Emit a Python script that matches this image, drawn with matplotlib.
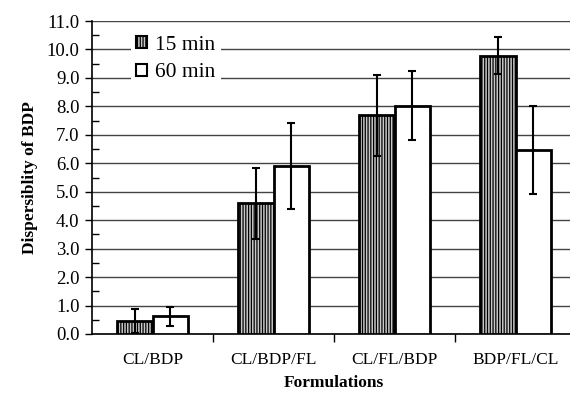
import numpy as np
import matplotlib.pyplot as plt
from matplotlib.patches import Patch

plt.rcParams['font.family'] = ['Liberation Serif', 'DejaVu Serif']
plt.rcParams['hatch.linewidth'] = 0.9

formulations = ["CL/BDP", "CL/BDP/FL", "CL/FL/BDP", "BDP/FL/CL"]
disp_15 = [0.45, 4.6, 7.68, 9.78]
err_15 = [0.43, 1.25, 1.42, 0.66]
disp_60 = [0.62, 5.9, 8.03, 6.47]
err_60 = [0.34, 1.5, 1.2, 1.55]


def show_data():
    fig = plt.figure(figsize=(5.7, 3.93), dpi=100)
    ax = fig.add_axes([92 / 570, 59 / 393, 484 / 570, 313 / 393])

    x = np.arange(len(formulations))
    w = 0.293
    ax.bar(x - w / 2, disp_15, w, facecolor="#c8c8c8", edgecolor="black",
           hatch="||||||", linewidth=2, zorder=3)
    ax.bar(x + w / 2, disp_60, w, facecolor="white", edgecolor="black",
           linewidth=2, zorder=3)
    ax.errorbar(x - w / 2, disp_15, yerr=err_15, fmt="none", ecolor="black",
                elinewidth=1.5, capsize=3.2, capthick=1.5, zorder=4)
    ax.errorbar(x + w / 2, disp_60, yerr=err_60, fmt="none", ecolor="black",
                elinewidth=1.5, capsize=3.2, capthick=1.5, zorder=4)

    ax.set_xlim(-0.5, 3.5)
    ax.set_ylim(0, 11)
    ax.set_yticks(np.arange(0, 11.5, 1.0))
    ax.set_yticklabels(["%.1f" % v for v in np.arange(0, 11.5, 1.0)], fontsize=13.5)
    ax.set_yticks(np.arange(0.5, 11, 1.0), minor=True)
    ax.tick_params(axis="y", which="major", direction="out", length=5, width=1, pad=4)
    ax.tick_params(axis="y", which="minor", direction="in", length=5, width=1)

    ax.set_xticks([0.5, 1.5, 2.5])
    ax.set_xticklabels([])
    ax.set_xticks(x, minor=True)
    ax.set_xticklabels(formulations, minor=True, fontsize=12.5)
    ax.tick_params(axis="x", which="major", direction="out", length=6, width=1)
    ax.tick_params(axis="x", which="minor", length=0, pad=13)

    ax.grid(True, axis="y", which="major", color="#444444", linewidth=1, zorder=0)
    ax.set_axisbelow(True)
    for s in ["top", "right"]:
        ax.spines[s].set_visible(False)
    ax.spines["left"].set_linewidth(1.2)
    ax.spines["bottom"].set_linewidth(1.2)

    ax.set_xlabel("Formulations", fontsize=12.5, fontweight="bold", labelpad=5)
    ax.set_ylabel("Dispersiblity of BDP", fontsize=12.5, fontweight="bold", labelpad=6)

    handles = [Patch(facecolor="#c8c8c8", edgecolor="black", hatch="||||||", linewidth=1.5),
               Patch(facecolor="white", edgecolor="black", linewidth=1.5)]
    leg = ax.legend(handles, ["15 min", "60 min"], loc="upper left",
                    bbox_to_anchor=(0.08, 0.97), fontsize=15.5, frameon=True,
                    fancybox=False, edgecolor="none", facecolor="white", framealpha=1,
                    handlelength=0.5, handleheight=0.5, handletextpad=0.4,
                    labelspacing=0.4, borderpad=0.25, borderaxespad=0)
    leg.set_zorder(5)

    fig.savefig("out.png", dpi=100)


if __name__ == '__main__':
    show_data()
